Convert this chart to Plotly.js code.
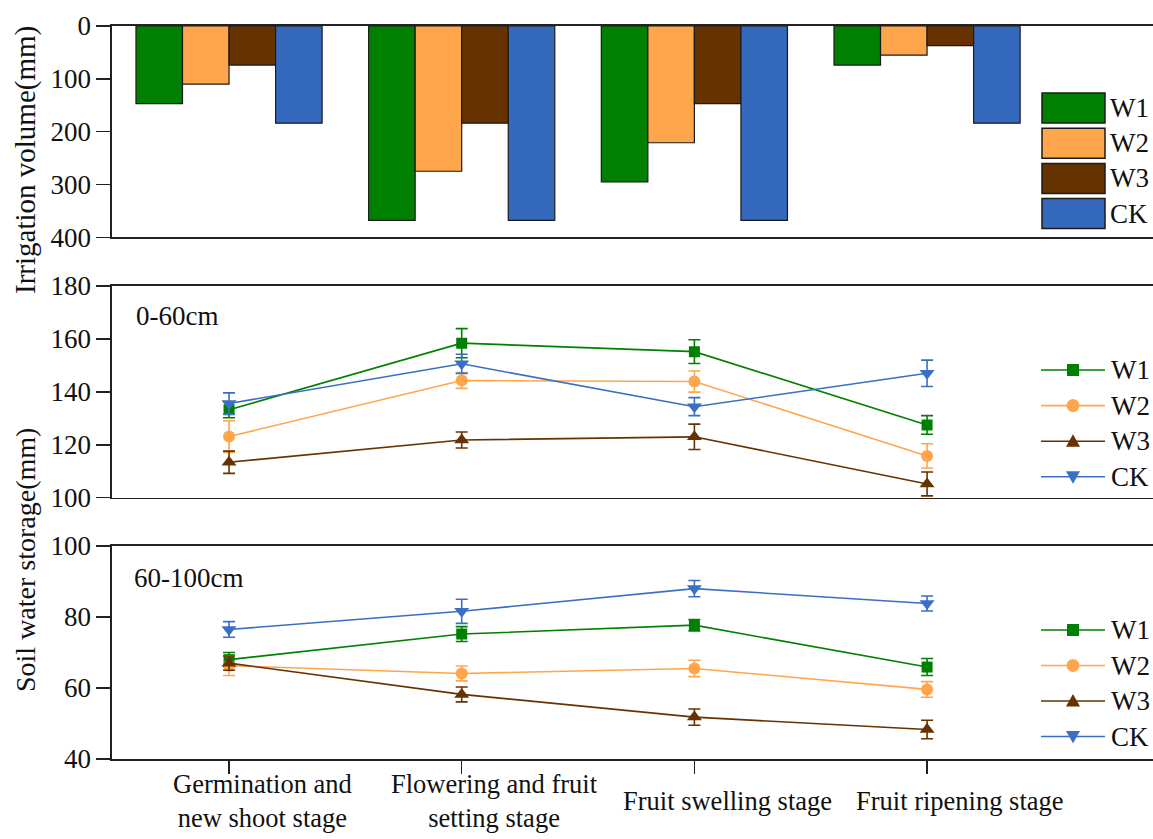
<!DOCTYPE html>
<html>
<head>
<meta charset="utf-8">
<script src="https://cdn.plot.ly/plotly-3.0.1.min.js"></script>
<style>html,body{margin:0;padding:0;background:#fff;}#chart{width:1153px;height:839px;}</style>
</head>
<body>
<div id="chart"></div>
<script>
// ---------------- data ----------------
const categories = ['Germination and new shoot stage', 'Flowering and fruit setting stage', 'Fruit swelling stage', 'Fruit ripening stage'];
const tickLabels = ['Germination and<br>new shoot stage', 'Flowering and fruit<br>setting stage', 'Fruit swelling stage', 'Fruit ripening stage'];
const seriesNames = ['W1', 'W2', 'W3', 'CK'];

// Irrigation volume (mm)
const irrW1 = [147, 368, 295, 74];
const irrW2 = [110, 275, 221, 55];
const irrW3 = [74, 184, 147, 37];
const irrCK = [184, 368, 368, 184];

// Soil water storage 0-60cm (mm)
const s060W1 = [133.2, 158.4, 155.2, 127.5];
const s060W2 = [123.1, 144.3, 143.9, 115.8];
const s060W3 = [113.4, 121.8, 123.0, 105.2];
const s060CK = [135.6, 150.6, 134.4, 147.0];
const e060W1 = [3.0, 5.5, 4.5, 3.5];
const e060W2 = [6.0, 3.0, 4.0, 4.6];
const e060W3 = [4.2, 3.0, 4.8, 4.5];
const e060CK = [4.0, 3.6, 3.4, 5.0];

// Soil water storage 60-100cm (mm)
const s60100W1 = [68.0, 75.2, 77.7, 65.9];
const s60100W2 = [66.3, 64.1, 65.5, 59.6];
const s60100W3 = [67.0, 58.2, 51.8, 48.3];
const s60100CK = [76.5, 81.6, 88.0, 83.8];
const e60100W1 = [2.0, 2.1, 1.6, 2.4];
const e60100W2 = [2.8, 2.1, 2.3, 2.2];
const e60100W3 = [2.0, 2.1, 2.3, 2.6];
const e60100CK = [2.2, 3.4, 2.3, 2.1];

// ---------------- style ----------------
const barColors = ['#008000', '#FFA64D', '#663300', '#3469BD'];
const lineColors = ['#008000', '#FFA64D', '#663300', '#3A6FC4'];
const symbols = ['square', 'circle', 'triangle-up', 'triangle-down'];
const symSizes = [11, 12, 13, 13];
const FONT = '"Liberation Serif", "Times New Roman", serif';
const AX = '#222';

const W = 1153, H = 839;
const M = {l: 112, r: 0, t: 26, b: 80};
const PW = W - M.l - M.r, PH = H - M.t - M.b;
const px = x => (x - M.l) / PW;
const py = y => (H - M.b - y) / PH;

const irr = [irrW1, irrW2, irrW3, irrCK];
const s060 = [s060W1, s060W2, s060W3, s060CK];
const e060 = [e060W1, e060W2, e060W3, e060CK];
const s60100 = [s60100W1, s60100W2, s60100W3, s60100CK];
const e60100 = [e60100W1, e60100W2, e60100W3, e60100CK];

const traces = [];
seriesNames.forEach((n, i) => {
  traces.push({
    type: 'bar', name: n, x: categories, y: irr[i], xaxis: 'x', yaxis: 'y',
    marker: {color: barColors[i], line: {color: '#1a1a1a', width: 1.2}},
    showlegend: false, hoverinfo: 'skip'
  });
});
function lineTraces(vals, errs, xa, ya) {
  seriesNames.forEach((n, i) => {
    traces.push({
      type: 'scatter', mode: 'lines+markers', name: n, x: categories, y: vals[i],
      xaxis: xa, yaxis: ya,
      line: {color: lineColors[i], width: 1.6},
      marker: {symbol: symbols[i], size: symSizes[i], color: lineColors[i]},
      error_y: {type: 'data', array: errs[i], visible: true, color: lineColors[i], thickness: 1.6, width: 6},
      showlegend: false, hoverinfo: 'skip'
    });
  });
}
lineTraces(s060, e060, 'x2', 'y2');
lineTraces(s60100, e60100, 'x3', 'y3');

const xRange = [-0.503, 3.971];
const yDom1 = [py(237.3), 1];
const yDom2 = [py(497.7), py(286)];
const yDom3 = [0, py(546)];

const baseX = {
  type: 'category', range: xRange, showline: true, linecolor: AX, linewidth: 1.6,
  mirror: true, showgrid: false, zeroline: false, showticklabels: false, ticks: ''
};
const baseY = {
  showline: true, linecolor: AX, linewidth: 1.6, showgrid: false, zeroline: false,
  ticks: 'outside', ticklen: 14, tickwidth: 1.5, tickcolor: AX,
  tickfont: {family: FONT, size: 27, color: '#111'}
};

const shapes = [];
const annotations = [];

// bar legend (top panel)
seriesNames.forEach((n, i) => {
  const top = 93 + i * 35.2;
  shapes.push({type: 'rect', xref: 'paper', yref: 'paper',
    x0: px(1042), x1: px(1105), y0: py(top), y1: py(top + 30),
    fillcolor: barColors[i], line: {color: '#1a1a1a', width: 1.5}});
  annotations.push({xref: 'paper', yref: 'paper', x: px(1108), y: py(top + 15),
    xanchor: 'left', yanchor: 'middle', text: n, showarrow: false,
    font: {family: FONT, size: 27, color: '#111'}});
});

// line legends
function lineLegend(y0, pitch) {
  seriesNames.forEach((n, i) => {
    const yc = y0 + i * pitch;
    const c = lineColors[i];
    shapes.push({type: 'line', xref: 'paper', yref: 'paper',
      x0: px(1041), x1: px(1105), y0: py(yc), y1: py(yc), line: {color: c, width: 1.6}});
    const mx = 1073;
    const s = symSizes[i] / 2 + 0.5;
    if (symbols[i] === 'square') {
      shapes.push({type: 'rect', xref: 'paper', yref: 'paper', x0: px(mx - s), x1: px(mx + s),
        y0: py(yc - s), y1: py(yc + s), fillcolor: c, line: {width: 0}});
    } else if (symbols[i] === 'circle') {
      shapes.push({type: 'circle', xref: 'paper', yref: 'paper', x0: px(mx - s), x1: px(mx + s),
        y0: py(yc - s), y1: py(yc + s), fillcolor: c, line: {width: 0}});
    } else {
      const up = symbols[i] === 'triangle-up';
      const tipY = up ? yc - s : yc + s;
      const baseYp = up ? yc + s * 0.8 : yc - s * 0.8;
      const path = 'M' + px(mx) + ',' + py(tipY) + ' L' + px(mx - s) + ',' + py(baseYp) +
        ' L' + px(mx + s) + ',' + py(baseYp) + ' Z';
      shapes.push({type: 'path', xref: 'paper', yref: 'paper', path: path, fillcolor: c, line: {width: 0}});
    }
    annotations.push({xref: 'paper', yref: 'paper', x: px(1109), y: py(yc),
      xanchor: 'left', yanchor: 'middle', text: n, showarrow: false,
      font: {family: FONT, size: 27, color: '#111'}});
  });
}
lineLegend(370, 35.6);
lineLegend(630, 35.5);

// x category labels
tickLabels.forEach((t, i) => {
  annotations.push({xref: 'x3', yref: 'paper', x: categories[i], y: py(801), xshift: 33,
    xanchor: 'center', yanchor: 'middle', text: t, showarrow: false, align: 'center',
    font: {family: FONT, size: 26.5, color: '#111'}});
});

// axis titles and panel labels
annotations.push({xref: 'paper', yref: 'paper', x: px(25), y: py(160), textangle: -90,
  xanchor: 'center', yanchor: 'middle', text: 'Irrigation volume(mm)', showarrow: false,
  font: {family: FONT, size: 29, color: '#111'}});
annotations.push({xref: 'paper', yref: 'paper', x: px(25), y: py(560), textangle: -90,
  xanchor: 'center', yanchor: 'middle', text: 'Soil water storage(mm)', showarrow: false,
  font: {family: FONT, size: 28, color: '#111'}});
annotations.push({xref: 'paper', yref: 'paper', x: px(134), y: py(316),
  xanchor: 'left', yanchor: 'middle', text: '0-60cm', showarrow: false,
  font: {family: FONT, size: 27, color: '#111'}});
annotations.push({xref: 'paper', yref: 'paper', x: px(132), y: py(578),
  xanchor: 'left', yanchor: 'middle', text: '60-100cm', showarrow: false,
  font: {family: FONT, size: 27, color: '#111'}});

const layout = {
  width: W, height: H, margin: M,
  paper_bgcolor: '#fff', plot_bgcolor: '#fff',
  showlegend: false, barmode: 'group', bargap: 0.2, bargroupgap: 0,
  font: {family: FONT, color: '#111'},
  xaxis: Object.assign({}, baseX, {anchor: 'y'}),
  xaxis2: Object.assign({}, baseX, {anchor: 'y2', matches: 'x'}),
  xaxis3: Object.assign({}, baseX, {anchor: 'y3', matches: 'x', ticks: 'outside', ticklen: 13, tickwidth: 1.5, tickcolor: AX}),
  yaxis: Object.assign({}, baseY, {domain: yDom1, anchor: 'x', range: [400, 0], tickvals: [0, 100, 200, 300, 400]}),
  yaxis2: Object.assign({}, baseY, {domain: yDom2, anchor: 'x2', range: [100, 180], tickvals: [100, 120, 140, 160, 180]}),
  yaxis3: Object.assign({}, baseY, {domain: yDom3, anchor: 'x3', range: [40, 100], tickvals: [40, 60, 80, 100]}),
  shapes: shapes, annotations: annotations
};

Plotly.newPlot('chart', traces, layout, {displayModeBar: false, staticPlot: true});
</script>
</body>
</html>
